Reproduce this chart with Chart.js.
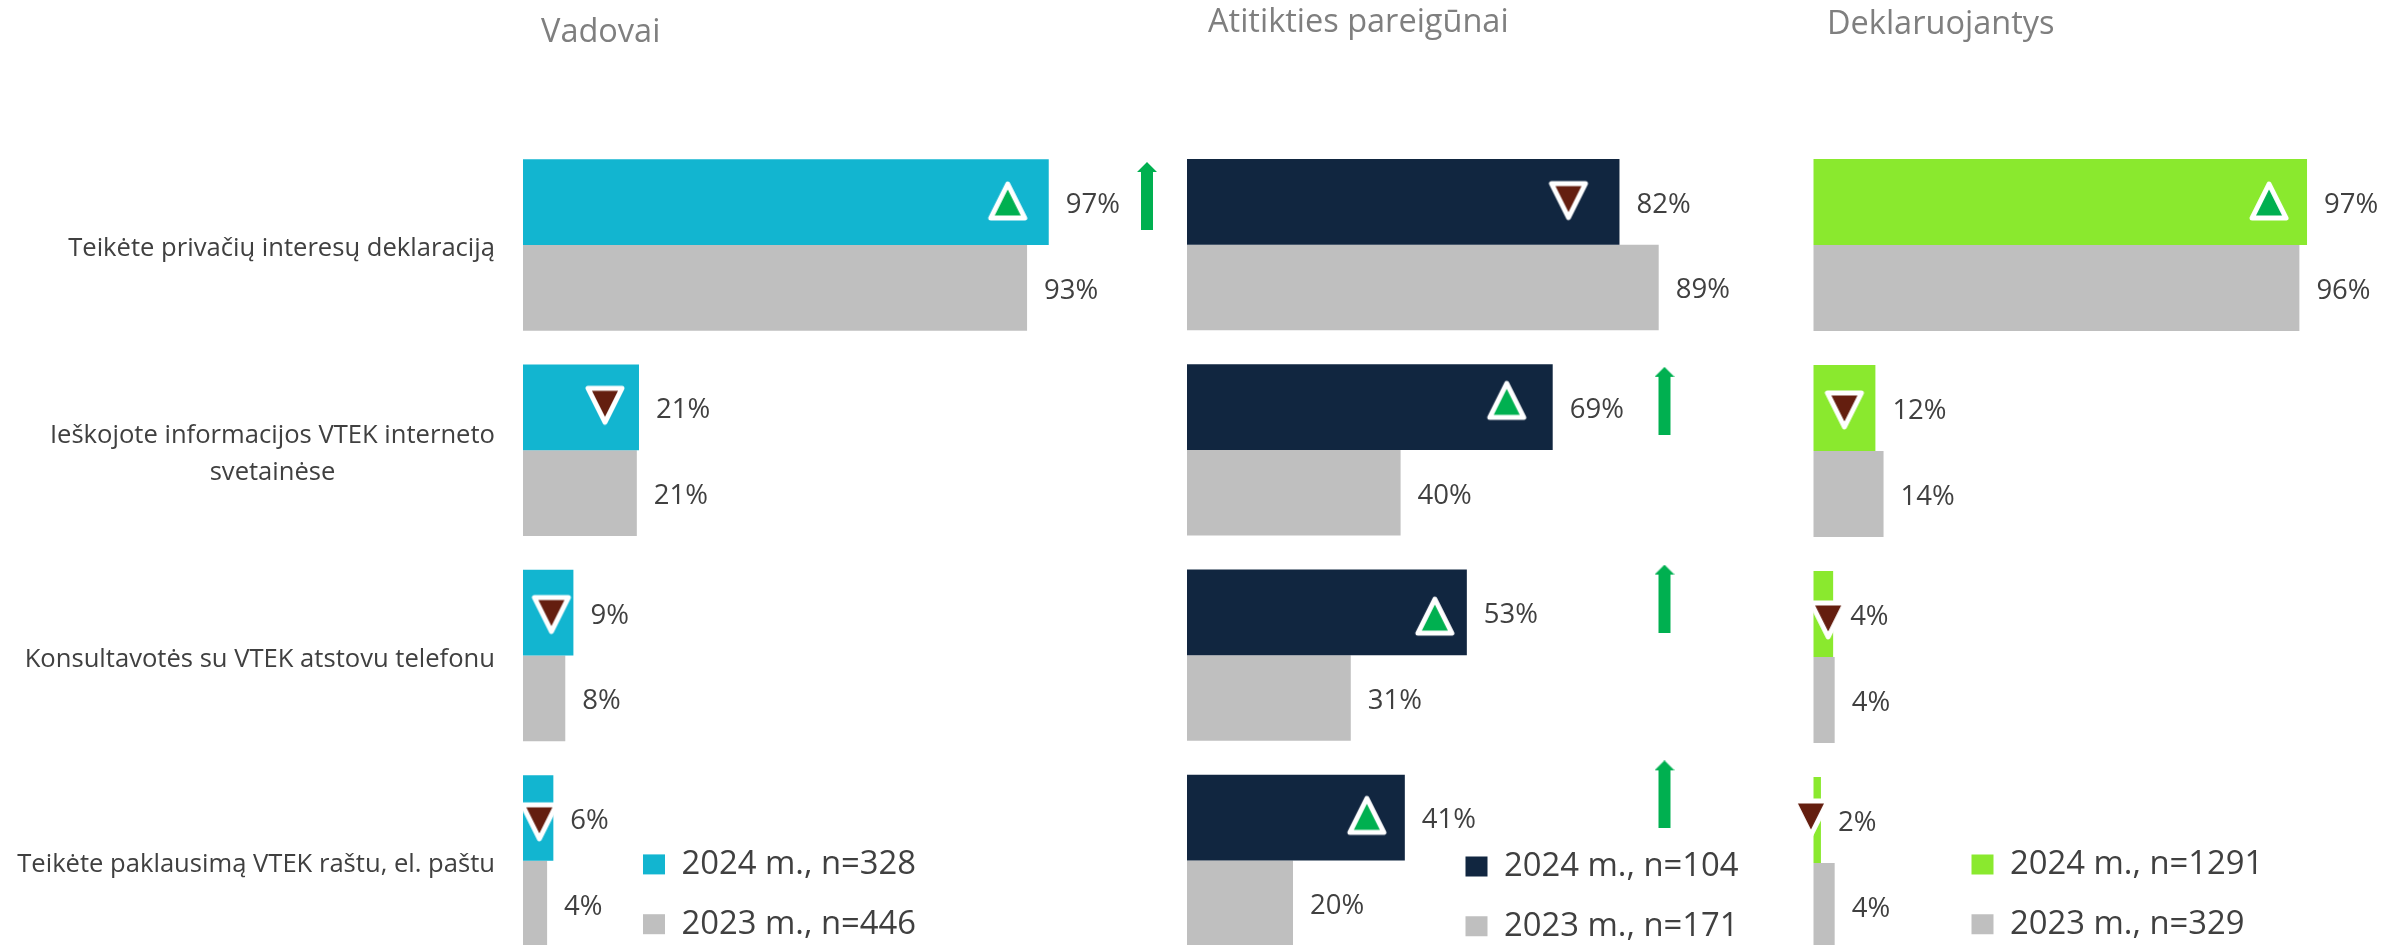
<!DOCTYPE html>
<html lang="lt">
<head>
<meta charset="utf-8">
<title>VTEK</title>
<script src="https://cdn.jsdelivr.net/npm/chart.js@4/dist/chart.umd.min.js"></script>
<style>
html,body{margin:0;padding:0;background:#fff;width:2402px;height:945px;overflow:hidden;position:relative}
canvas{position:absolute;top:0}
</style>
</head>
<body>
<canvas id="p1" width="1170" height="1010" style="left:0"></canvas>
<canvas id="p2" width="640" height="1010" style="left:1140px"></canvas>
<canvas id="p3" width="622" height="1010" style="left:1780px"></canvas>
<script>
// ---- data ----
const categories = [
  'Teikėte privačių interesų deklaraciją',
  ['Ieškojote informacijos VTEK interneto', 'svetainėse'],
  'Konsultavotės su VTEK atstovu telefonu',
  'Teikėte paklausimą VTEK raštu, el. paštu'
];
const titles = ['Vadovai', 'Atitikties pareigūnai', 'Deklaruojantys'];

const vadovai2024 = [97, 21.4, 9.3, 5.6];
const vadovai2023 = [93, 21, 7.8, 4.45];
const pareigunai2024 = [81.6, 69, 52.8, 41.1];
const pareigunai2023 = [89, 40.3, 30.9, 20];
const deklaruojantys2024 = [97, 12.2, 3.9, 1.5];
const deklaruojantys2023 = [95.5, 13.8, 4.2, 4.2];

const legend2024 = ['2024 m., n=328', '2024 m., n=104', '2024 m., n=1291'];
const legend2023 = ['2023 m., n=446', '2023 m., n=171', '2023 m., n=329'];

const trendVadovai = ['up', 'down', 'down', 'down'];
const trendPareigunai = ['down', 'up', 'up', 'up'];
const trendDeklaruojantys = ['up', 'down', 'down', 'down'];

const arrowVadovai = [true, false, false, false];
const arrowPareigunai = [false, true, true, true];
const arrowDeklaruojantys = [false, false, false, false];

// ---- styling and layout ----
const FONT = '"Open Sans", sans-serif';
const GREY = '#bfbfbf', TEXT = '#404040', TITLE = '#7f7f7f', ARROW = '#00b050', MAROON = '#641e0f';
const VALUE_SIZE = 27.5, TITLE_SIZE = 32.5, LEGEND_SIZE = 32.8, CAT_SIZE = 25.6;
const CANVAS_H = 1010;

function triangleImage(dir) {
  const c = document.createElement('canvas'); c.width = 46; c.height = 46;
  const g = c.getContext('2d');
  const t = 6, b = 40, l = 6, r = 40;
  g.beginPath();
  if (dir === 'up') { g.moveTo(23, t); g.lineTo(r, b); g.lineTo(l, b); }
  else { g.moveTo(l, t); g.lineTo(r, t); g.lineTo(23, b); }
  g.closePath();
  g.fillStyle = dir === 'up' ? ARROW : MAROON; g.fill();
  g.lineJoin = 'round'; g.lineWidth = 5; g.strokeStyle = '#fff'; g.stroke();
  return c;
}
const triangleUp = triangleImage('up'), triangleDown = triangleImage('down');

function arrowImage() {
  const c = document.createElement('canvas'); c.width = 20; c.height = 68;
  const g = c.getContext('2d');
  g.fillStyle = ARROW;
  g.beginPath();
  g.moveTo(10, 0); g.lineTo(20, 10); g.lineTo(16, 10); g.lineTo(16, 68);
  g.lineTo(4, 68); g.lineTo(4, 10); g.lineTo(0, 10); g.closePath(); g.fill();
  return c;
}
const arrowPic = arrowImage();

const panels = [
  { id: 'p1', left: 0, plotLeft: 523, plotTop: 142.3, plotBottom: 963.7, ppp: 5.42, color: '#12b5d0',
    a: vadovai2024, b: vadovai2023, trend: trendVadovai, arrows: arrowVadovai,
    triDx: [-41, -34, -22, -14], triDy: [-44, -45, -41, -39],
    arrowX: 1147, arrowDy: [-49, 0, 0, 0],
    titleX: 541, titleTop: 13, legendX: 616, legendY: 821, showCats: true },
  { id: 'p2', left: 1140, plotLeft: 1187, plotTop: 142, plotBottom: 963, ppp: 5.3, color: '#112640',
    a: pareigunai2024, b: pareigunai2023, trend: trendPareigunai, arrows: arrowPareigunai,
    triDx: [-51, -46, -32, -38], triDy: [-44, -49.5, -39, -45],
    arrowX: 1664.5, arrowDy: [0, -49, -56.5, -66],
    titleX: 1208, titleTop: 3, legendX: 1438.5, legendY: 823, showCats: false },
  { id: 'p3', left: 1780, plotLeft: 1813.3, plotTop: 142, plotBottom: 966, ppp: 5.09, color: '#8ae92e',
    a: deklaruojantys2024, b: deklaruojantys2023, trend: trendDeklaruojantys, arrows: arrowDeklaruojantys,
    triDx: [-38, -31, -5, -10], triDy: [-44, -41, -37, -45],
    arrowX: 0, arrowDy: [0, 0, 0, 0],
    titleX: 1827, titleTop: 5, legendX: 1944.5, legendY: 821, showCats: false }
];

// value labels next to the bar ends
const valueLabels = {
  id: 'valueLabels',
  afterDatasetsDraw(chart) {
    const g = chart.ctx;
    g.save();
    g.font = VALUE_SIZE + 'px ' + FONT; g.fillStyle = TEXT;
    g.textAlign = 'left'; g.textBaseline = 'middle';
    [0, 1].forEach(d => {
      chart.getDatasetMeta(d).data.forEach((bar, i) => {
        const v = chart.data.datasets[d].data[i];
        g.fillText(Math.round(v) + '%', bar.x + 17, bar.y + 3);
      });
    });
    g.restore();
  }
};

// places the library's title and legend where the reference has them
function placer(p) {
  return {
    id: 'placer',
    afterLayout(chart) {
      const t = chart.titleBlock;
      t.left = p.titleX - p.left; t.right = t.left + 500; t.width = 500;
      t.top = p.titleTop; t.bottom = t.top + TITLE_SIZE * 1.4;
      const l = chart.legend;
      const w = 340, h = 180;
      l.left = p.legendX - p.left; l.right = l.left + w; l.width = w;
      l.top = p.legendY; l.bottom = l.top + h; l.height = h;
    }
  };
}

panels.forEach((p, n) => {
  const canvasW = document.getElementById(p.id).width;
  const pitch = (p.plotBottom - p.plotTop) / 4;
  const xMax = (canvasW - (p.plotLeft - p.left)) / p.ppp;

  const triPoints = [], triStyles = [];
  p.a.forEach((v, i) => {
    triPoints.push({ x: v + p.triDx[i] / p.ppp, y: i + p.triDy[i] / pitch });
    triStyles.push(p.trend[i] === 'up' ? triangleUp : triangleDown);
  });
  const arrowPoints = [];
  p.arrows.forEach((on, i) => {
    if (on) arrowPoints.push({ x: (p.arrowX - p.plotLeft) / p.ppp, y: i + p.arrowDy[i] / pitch });
  });

  const chart = new Chart(document.getElementById(p.id), {
    type: 'bar',
    data: {
      labels: categories,
      datasets: [
        { label: legend2024[n], data: p.a, backgroundColor: p.color, order: 2, indexAxis: 'y',
          categoryPercentage: 0.835, barPercentage: 1, yAxisID: 'y', xAxisID: 'x' },
        { label: legend2023[n], data: p.b, backgroundColor: GREY, order: 2, indexAxis: 'y',
          categoryPercentage: 0.835, barPercentage: 1, yAxisID: 'y', xAxisID: 'x' },
        { type: 'scatter', indexAxis: 'x', data: triPoints, pointStyle: triStyles, pointRadius: 20,
          order: 0, clip: false, xAxisID: 'x', yAxisID: 'y2' },
        { type: 'scatter', indexAxis: 'x', data: arrowPoints, pointStyle: arrowPic, pointRadius: 20,
          order: 1, clip: false, xAxisID: 'x', yAxisID: 'y2' }
      ]
    },
    options: {
      indexAxis: 'x',
      responsive: false,
      animation: false,
      events: [],
      layout: { padding: {
        left: p.showCats ? 0 : p.plotLeft - p.left,
        right: 0,
        top: p.plotTop - TITLE_SIZE * 1.2,
        bottom: CANVAS_H - p.plotBottom
      } },
      scales: {
        x: { type: 'linear', axis: 'x', display: false, offset: false, min: 0, max: xMax, grid: { display: false } },
        y: {
          type: 'category', axis: 'y', offset: true, display: p.showCats,
          grid: { display: false, offset: true, drawTicks: false },
          border: { display: false },
          afterFit(s) { if (p.showCats) s.width = p.plotLeft - p.left; },
          ticks: {
            padding: 28, color: TEXT, autoSkip: false, labelOffset: 4,
            font: { family: FONT, size: CAT_SIZE, lineHeight: 37 / CAT_SIZE },
            callback(value, i) {
              const c = categories[i];
              return Array.isArray(c) ? [c[0], c[1] + '\u00a0'.repeat(24)] : c;
            }
          }
        },
        y2: { type: 'linear', axis: 'y', display: false, offset: false, reverse: true, min: -0.5, max: 3.5, grid: { display: false } }
      },
      plugins: {
        tooltip: { enabled: false },
        title: { display: true, text: titles[n], align: 'start', color: TITLE, padding: 0,
                 font: { family: FONT, size: TITLE_SIZE, weight: 'normal', lineHeight: 1.2 } },
        legend: {
          display: true, position: 'chartArea', align: 'start',
          labels: {
            boxWidth: 22, boxHeight: 20, padding: 27, color: TEXT,
            font: { family: FONT, size: LEGEND_SIZE },
            filter: item => item.datasetIndex < 2
          }
        }
      }
    },
    plugins: [valueLabels, placer(p)]
  });

  // second pass: pin the plot's left edge and the pixels-per-percent once the layout is known
  if (!p.showCats) {
    chart.options.layout.padding.left += (p.plotLeft - p.left) - chart.chartArea.left;
    chart.update();
  }
  chart.options.scales.x.max = chart.chartArea.width / p.ppp;
  chart.update();
});
</script>
</body>
</html>
